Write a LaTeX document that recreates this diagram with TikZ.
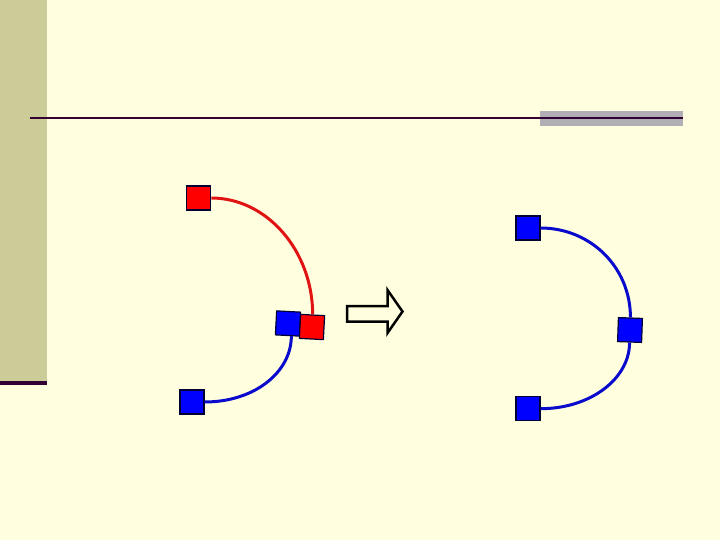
\documentclass[tikz,border=0pt]{standalone}
\definecolor{bgc}{RGB}{255,255,224}
\definecolor{barc}{RGB}{204,204,153}
\definecolor{darkline}{RGB}{51,0,51}
\definecolor{grayblk}{RGB}{178,174,182}
\definecolor{sqred}{RGB}{255,0,0}
\definecolor{sqblue}{RGB}{0,0,255}
\definecolor{arcred}{RGB}{225,20,20}
\definecolor{arcblue}{RGB}{10,10,205}
\tikzset{
  sq/.style={draw=black!80!blue, line width=1.2pt, minimum size=24pt, inner sep=0pt},
  redsq/.style={sq, fill=sqred},
  bluesq/.style={sq, fill=sqblue},
  redarc/.style={draw=arcred, line width=3pt},
  bluearc/.style={draw=arcblue, line width=3pt},
}
\begin{document}
\begin{tikzpicture}[x=1pt,y=-1pt]
\useasboundingbox (0,0) rectangle (720,540);
\fill[bgc] (0,0) rectangle (720,540);
\fill[barc] (0,0) rectangle (47,382);
\fill[darkline] (0,381) rectangle (47,385);
\fill[grayblk] (540,111) rectangle (683,126);
\draw[darkline, line width=2pt] (30,118) -- (683,118);
% left diagram
\node[redsq] (r1) at (198.7,198) {};
\node[bluesq, rotate=-3] (b1) at (288,323.5) {};
\node[redsq, rotate=-3] (r2) at (312,327) {};
\node[bluesq] (b2) at (192,402) {};
\draw[redarc] (r1.east) .. controls +(56,0) and +(0,-63) .. (r2.north);
\draw[bluearc] ([xshift=4pt]b1.south) .. controls +(0,36) and +(50,0) .. (b2.east);
% arrow
\draw[black, line width=2.5pt, line join=miter]
  (347,306) -- (387.5,306) -- (387.5,290) -- (402.5,311.5) -- (387.5,333) -- (387.5,321.5) -- (347,321.5) -- cycle;
% right diagram
\node[bluesq] (c1) at (528,228) {};
\node[bluesq, rotate=-2] (c2) at (630,330) {};
\node[bluesq] (c3) at (528,408.7) {};
\draw[bluearc] (c1.east) .. controls +(50,0) and +(0,-50) .. (c2.north);
\draw[bluearc] (c2.south) .. controls +(0,36) and +(50,0) .. (c3.east);
\end{tikzpicture}
\end{document}
